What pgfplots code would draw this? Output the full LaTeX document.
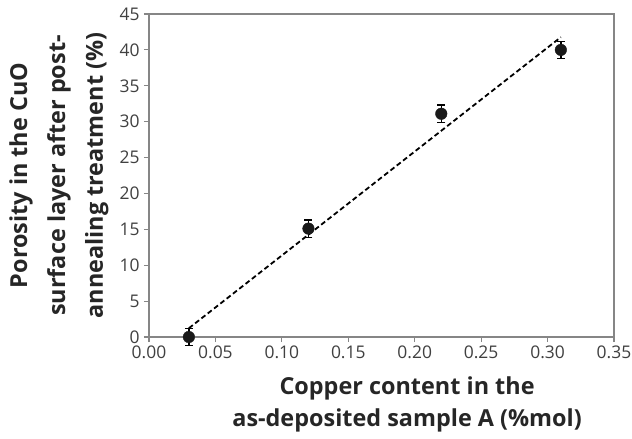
\documentclass[border=0pt]{standalone}
\usepackage{fontspec}
\setmainfont{Open Sans}
\usepackage{pgfplots}
\pgfplotsset{compat=1.18}
\definecolor{axgray}{HTML}{868686}
\definecolor{txtgray}{HTML}{404040}
\definecolor{lblgray}{HTML}{262626}
\begin{document}
\begin{tikzpicture}
\useasboundingbox (-149bp,-102bp) rectangle (483bp,337bp);
\begin{axis}[
  at={(0,0)}, anchor=south west,
  scale only axis, width=465bp, height=323bp,
  xmin=0, xmax=0.35, ymin=0, ymax=45,
  xtick={0,0.05,0.10,0.15,0.20,0.25,0.30,0.35},
  ytick={0,5,10,15,20,25,30,35,40,45},
  tick align=outside, tick pos=left,
  major tick length=5bp,
  axis line style={axgray, line width=1.2bp},
  every tick/.style={axgray, line width=1.2bp},
  /pgf/number format/assume math mode=true,
  tick label style={font=\fontsize{17.5}{20}\selectfont, text=txtgray},
  xticklabel style={/pgf/number format/.cd, fixed, fixed zerofill, precision=2},
  yticklabel style={xshift=-1bp, /pgf/number format/.cd, fixed, precision=0},
  xlabel={Copper content in the\\as-deposited sample A (\%mol)},
  ylabel={Porosity in the CuO\\surface layer after post-\\annealing treatment (\%)},
  x label style={font=\bfseries\fontsize{23.5}{32}\selectfont, align=center, text=lblgray,
    at={(axis description cs:0.555,-0.112)}, anchor=north},
  y label style={font=\bfseries\fontsize{23.5}{38}\selectfont, align=center, text=lblgray,
    at={(axis description cs:-0.1935,0.5)}, anchor=center},
  clip=false,
]
\addplot[black, dash pattern=on 5bp off 3bp, line width=1.8bp] coordinates {(0.03,1.22) (0.31,41.77)};
\addplot[only marks, mark=*, mark size=5.8bp, mark options={fill=black!90, draw=black!90},
  error bars/.cd, y dir=both, y explicit,
  error bar style={line width=1.4bp, black},
  error mark options={rotate=90, mark size=4bp, line width=1.4bp, black}]
  coordinates {
    (0.03,0) +- (0,1.2)
    (0.12,15.1) +- (0,1.2)
    (0.22,31.1) +- (0,1.2)
    (0.31,40.0) +- (0,1.2)
  };
\end{axis}
\end{tikzpicture}
\end{document}
